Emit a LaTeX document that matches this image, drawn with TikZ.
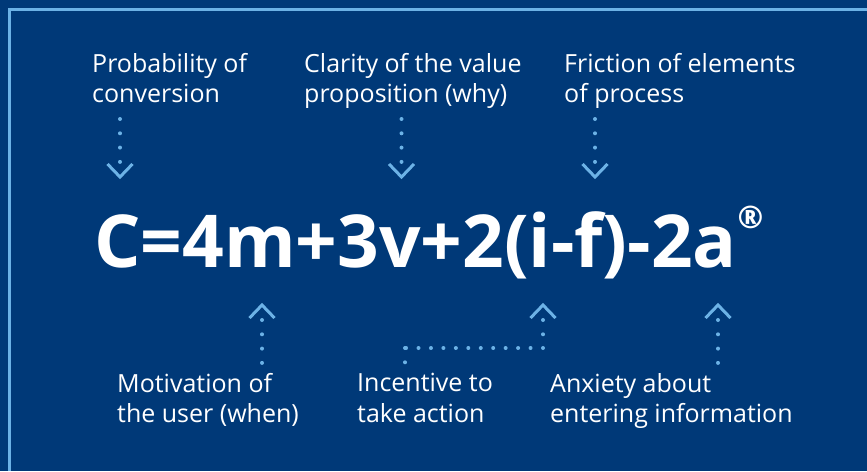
\documentclass[tikz,border=0pt]{standalone}
\usepackage{fontspec}
\setmainfont{Open Sans}
\usepackage{xcolor}
\usetikzlibrary{positioning,calc}
\definecolor{cvnavy}{RGB}{0,57,120}
\definecolor{cvsky}{RGB}{108,178,230}
\tikzset{
  label/.style={anchor=north west, inner sep=0pt, align=left, text=white, font=\fontsize{25}{30.5}\selectfont},
  formula/.style={anchor=base west, inner sep=0pt, text=white, font=\fontsize{73}{73}\bfseries},
  dotline/.style={cvsky, line width=4pt, line cap=round, dash pattern=on 0pt off 14.3pt},
  hdotline/.style={cvsky, line width=4pt, line cap=round, dash pattern=on 0pt off 12.45pt},
  chev/.style={cvsky, line width=3pt, line cap=butt, line join=miter}
}

\begin{document}
\begin{tikzpicture}[x=1pt, y=-1pt]
    \fill[cvnavy] (0,0) rectangle (867,471);
    \useasboundingbox (0,0) rectangle (867,471);
    \draw[cvsky, line width=3pt] (9.5,471) -- (9.5,9.5) -- (867,9.5);
    % top labels
    \node[label] (prob) at (92,53) {Probability of\\conversion};
    \node[label] (clar) at (304,53) {Clarity of the value\\proposition (why)};
    \node[label] (fric) at (564,53) {Friction of elements\\of process};
    % formula
    \node[formula] (eq) at (94,267) {C=4m+3v+2(i-f)-2a\raisebox{0.53em}{\kern1pt\fontsize{31}{31}\selectfont\textregistered}};
    % bottom labels
    \node[label] (moti) at (117,373) {Motivation of\\the user (when)};
    \node[label] (ince) at (357,373) {Incentive to\\take action};
    \node[label] (anxi) at (550,373) {Anxiety about\\entering information};
    % arrows down
    \coordinate (ptop) at (120,119);
    \coordinate (ctop) at (401.5,119);
    \coordinate (ftop) at (595,119);
    \foreach \n in {ptop,ctop,ftop}{
      \draw[dotline] (\n) -- ++(0,43.5);
      \draw[chev] (\n) ++(-12.5,45) -- ++(12.5,13) -- ++(12.5,-13);
    }
    % arrows up
    \coordinate (mtip) at (262,305);
    \coordinate (itip) at (543,305);
    \coordinate (atip) at (718,305);
    \foreach \n in {mtip,itip,atip}{
      \draw[chev] (\n) ++(-12.5,13) -- ++(12.5,-13) -- ++(12.5,13);
    }
    \draw[dotline] (mtip) ++(0,15) -- ++(0,43.5);
    \draw[dotline] (atip) ++(0,15) -- ++(0,43.5);
    \coordinate (ibend) at (543,348);
    \coordinate (icorner) at (405,348);
    \draw[dotline] (itip) ++(0,15) -- (ibend);
    \draw[hdotline] (ibend) -- ($(icorner)+(-0.5,0)$);
    \draw[dotline] (icorner) -- ++(0,15.5);
  \end{tikzpicture}
\end{document}
